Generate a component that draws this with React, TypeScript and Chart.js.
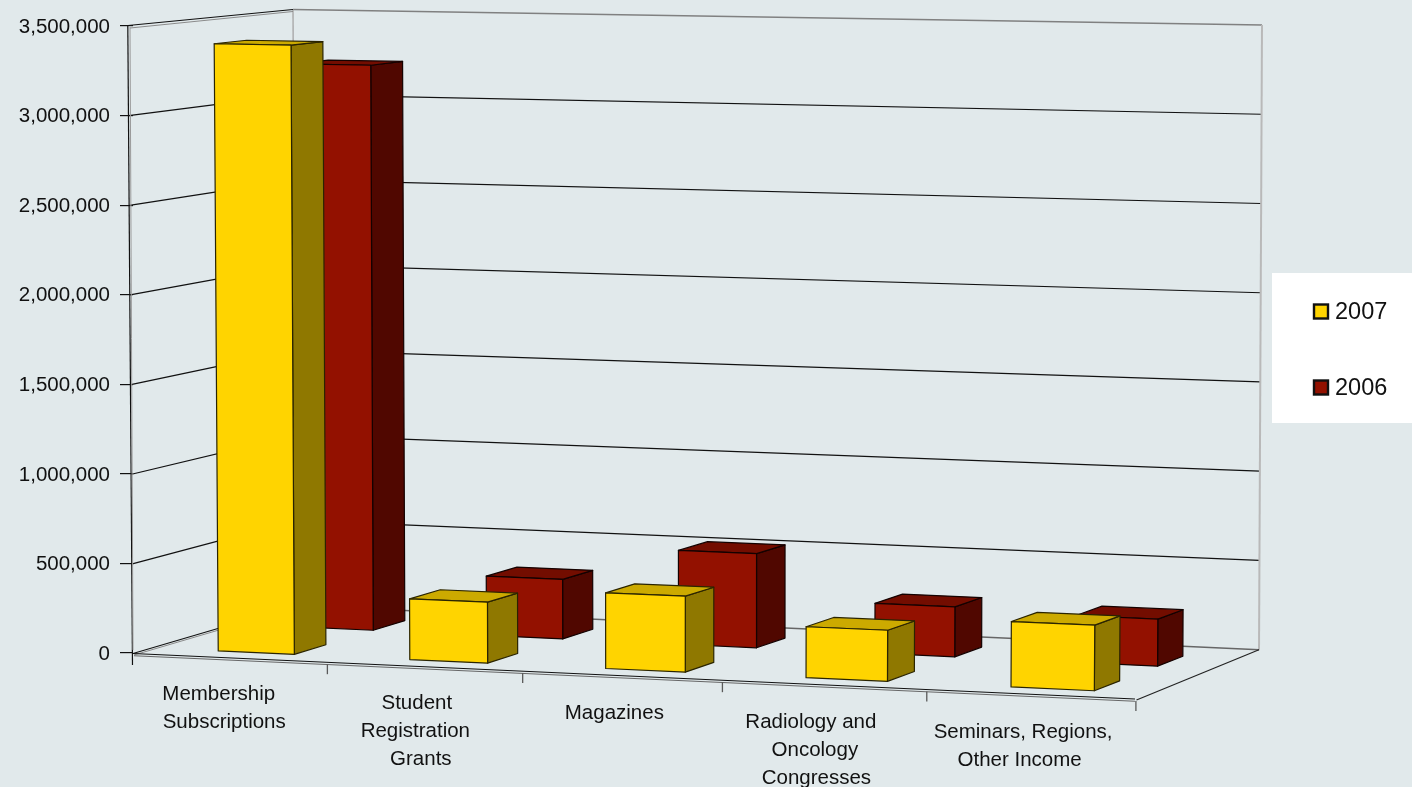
import React, { useEffect, useRef } from "react";
import { Chart, registerables } from "chart.js";

Chart.register(...registerables);

// ---- data ----
const categories: string[][] = [
  ["Membership", "Subscriptions"],
  ["Student", "Registration", "Grants"],
  ["Magazines"],
  ["Radiology and", "Oncology", "Congresses"],
  ["Seminars, Regions,", "Other Income"],
];
const values2007 = [3405000, 338000, 417000, 278000, 354000];
const values2006 = [3239000, 338000, 530000, 279000, 260000];
const seriesNames = ["2007", "2006"];

// ---- styles / layout ----
const FONT = '"Liberation Sans", Arial, sans-serif';
const BG = "#E1E9EB";
const YELLOW = { front: "#FFD400", side: "#8F7800", top: "#CCAA00", edge: "#2a2400" };
const RED = { front: "#931100", side: "#500700", top: "#730D00", edge: "#140200" };

type Pt = [number, number];
// Screen corners of the 3-D box: floor/top, front/back, left/right
const BOX = {
  fbl: [133, 653.5] as Pt,
  fbr: [1135, 699] as Pt,
  ftl: [128, 26] as Pt,
  ftr: [1140, 43] as Pt,
  bbl: [296, 605.5] as Pt,
  bbr: [1259, 649.7] as Pt,
  btl: [293, 9.5] as Pt,
  btr: [1262, 25] as Pt,
};
const WARP = 0.945; // perspective foreshortening along the category axis
const DEPTH_2007: [number, number] = [0.16, 0.36];
const DEPTH_2006: [number, number] = [0.66, 0.86];
const BAR_SHIFT: Pt = [2.5, 2.5]; // the bars sit slightly off the wall perspective
// Per-line horizontal nudges of the wrapped category labels
const labelNudge = [
  [-10, -4.5],
  [-5.5, -7, -1.5],
  [-6],
  [-12, -8, -6.5],
  [-7, -10.5],
];

const lerp = (a: number, b: number, t: number) => a + (b - a) * t;
const warp = (u: number) => (u * WARP) / (1 + u * (WARP - 1));

function project(u: number, v: number, z: number): Pt {
  const s = warp(u);
  const out: Pt = [0, 0];
  for (const i of [0, 1]) {
    const front = lerp(lerp(BOX.fbl[i], BOX.fbr[i], s), lerp(BOX.ftl[i], BOX.ftr[i], s), v);
    const back = lerp(lerp(BOX.bbl[i], BOX.bbr[i], s), lerp(BOX.btl[i], BOX.btr[i], s), v);
    out[i] = lerp(front, back, z);
  }
  return out;
}

function line(ctx: CanvasRenderingContext2D, pts: Pt[], color: string, width = 1) {
  ctx.beginPath();
  pts.forEach((p, i) => (i ? ctx.lineTo(p[0], p[1]) : ctx.moveTo(p[0], p[1])));
  ctx.strokeStyle = color;
  ctx.lineWidth = width;
  ctx.stroke();
}

function face(ctx: CanvasRenderingContext2D, pts: Pt[], fill: string, edge: string) {
  ctx.beginPath();
  pts.forEach((p, i) => {
    const x = p[0] + BAR_SHIFT[0];
    const y = p[1] + BAR_SHIFT[1];
    if (i) ctx.lineTo(x, y);
    else ctx.moveTo(x, y);
  });
  ctx.closePath();
  ctx.fillStyle = fill;
  ctx.fill();
  ctx.strokeStyle = edge;
  ctx.lineWidth = 1.2;
  ctx.lineJoin = "round";
  ctx.stroke();
}

const box3dPlugin = {
  id: "box3d",
  beforeDatasetsDraw(chart: any) {
    const ctx: CanvasRenderingContext2D = chart.ctx;
    const { left, width, top, bottom } = chart.chartArea;
    const y = chart.scales.y;
    const toU = (px: number) => (px - left) / width;
    const toV = (px: number) => (bottom - px) / (bottom - top);

    ctx.save();
    // horizontal grid lines on the left and back walls
    y.ticks.forEach((t: any) => {
      if (t.value === 0 || t.value === 3500000) return;
      const v = toV(y.getPixelForValue(t.value));
      line(ctx, [project(0, v, 0), project(0, v, 1), project(1, v, 1)], "#111111", 1.2);
    });

    // back wall outline
    line(ctx, [BOX.btl, BOX.btr], "#808080", 1.6);
    line(ctx, [BOX.btl, BOX.bbl], "#a9a9a9", 1.4);
    line(ctx, [BOX.btr, BOX.bbr], "#b9b9b9", 2);
    line(ctx, [BOX.bbl, BOX.bbr], "#666666", 1.6);
    // left wall outline
    line(ctx, [[128, 25.5], BOX.btl], "#111111", 1.1);
    line(ctx, [[130, 28], [293, 11.5]], "#8a8a8a", 1);
    line(ctx, [[127.8, 26], [132.5, 665]], "#111111", 1.2);
    line(ctx, [[130, 27], [133, 650]], "#9a9a9a", 1);
    // floor
    line(ctx, [BOX.fbl, BOX.bbl], "#111111", 1.1);
    line(ctx, [[134, 655], [297, 607]], "#8a8a8a", 1);
    line(ctx, [BOX.fbl, BOX.fbr], "#111111", 1.2);
    line(ctx, [[134, 655.8], [1135, 701.3]], "#666666", 1.1);
    line(ctx, [[1136.5, 700], BOX.bbr], "#222222", 1.2);

    // category ticks below the floor
    for (let i = 1; i <= 5; i++) {
      const p = project(i / 5, 0, 0);
      const px = p[0] + 3.4 - 0.5 * i;
      line(ctx, [[px, p[1] + 2], [px, p[1] + 12]], "#5a5a5a", 1.3);
    }

    // bars: back row first, then front row
    const rows: { index: number; depth: [number, number]; c: typeof YELLOW }[] = [
      { index: 1, depth: DEPTH_2006, c: RED },
      { index: 0, depth: DEPTH_2007, c: YELLOW },
    ];
    rows.forEach(({ index, depth, c }) => {
      chart.getDatasetMeta(index).data.forEach((el: any) => {
        const u0 = toU(el.x - el.width / 2);
        const u1 = toU(el.x + el.width / 2);
        const v = toV(el.y);
        const [z0, z1] = depth;
        face(ctx, [project(u1, 0, z0), project(u1, 0, z1), project(u1, v, z1), project(u1, v, z0)], c.side, c.edge);
        face(ctx, [project(u0, v, z0), project(u1, v, z0), project(u1, v, z1), project(u0, v, z1)], c.top, c.edge);
        face(ctx, [project(u0, 0, z0), project(u1, 0, z0), project(u1, v, z0), project(u0, v, z0)], c.front, c.edge);
      });
    });
    ctx.restore();
    return false;
  },
  afterDraw(chart: any) {
    const ctx: CanvasRenderingContext2D = chart.ctx;
    const x = chart.scales.x;
    const { left, width } = chart.chartArea;
    ctx.save();
    ctx.fillStyle = "#111";
    ctx.textBaseline = "middle";

    // category labels follow the slanted front edge
    ctx.font = `20.5px ${FONT}`;
    ctx.textAlign = "center";
    categories.forEach((lines, i) => {
      const p = project((x.getPixelForValue(i) - left) / width, 0, 0);
      lines.forEach((text, j) => {
        ctx.fillText(text, p[0] + labelNudge[i][j] + 0.5, p[1] + 36.5 + i * 0.5 + j * 27.7);
      });
    });

    // legend
    ctx.fillStyle = "#FFFFFF";
    ctx.fillRect(1272, 273, 140, 150);
    ctx.font = `23.5px ${FONT}`;
    ctx.textAlign = "left";
    chart.data.datasets.forEach((ds: any, i: number) => {
      const cy = 312 + i * 76;
      ctx.fillStyle = ds.backgroundColor;
      ctx.fillRect(1314, cy - 7.5, 14, 14);
      ctx.strokeStyle = "#111";
      ctx.lineWidth = 2.4;
      ctx.strokeRect(1314, cy - 7.5, 14, 14);
      ctx.fillStyle = "#111";
      ctx.fillText(ds.label, 1335, cy + 0.5);
    });
    ctx.restore();
  },
};

export default function App() {
  const ref = useRef<HTMLCanvasElement>(null);
  useEffect(() => {
    const chart = new Chart(ref.current as HTMLCanvasElement, {
      type: "bar",
      data: {
        labels: categories as any,
        datasets: [
          { label: seriesNames[0], data: values2007, backgroundColor: YELLOW.front },
          { label: seriesNames[1], data: values2006, backgroundColor: RED.front },
        ],
      },
      plugins: [box3dPlugin as any],
      options: {
        animation: false,
        responsive: false,
        layout: { padding: { top: 26, right: 277, left: 0, bottom: 0 } },
        datasets: { bar: { barPercentage: 0.4, categoryPercentage: 1, grouped: false } },
        plugins: { legend: { display: false }, tooltip: { enabled: false }, title: { display: false } },
        scales: {
          x: {
            grid: { display: false },
            border: { display: false },
            ticks: { display: false },
            afterFit(scale: any) {
              scale.height = 787 - 653;
            },
          },
          y: {
            min: 0,
            max: 3500000,
            border: { display: false },
            grid: { drawOnChartArea: false, drawTicks: true, tickLength: 13, color: "#111", lineWidth: 1.2 },
            ticks: {
              stepSize: 500000,
              padding: 10,
              labelOffset: 1,
              color: "#111",
              font: { family: FONT, size: 20.5 },
              callback: (v: any) => Number(v).toLocaleString("en-US"),
            },
            afterFit(scale: any) {
              scale.width = 133;
            },
          },
        },
      } as any,
    });
    return () => chart.destroy();
  }, []);
  return (
    <div style={{ position: "absolute", left: 0, top: 0, width: 1412, height: 787, background: BG, overflow: "hidden" }}>
      <canvas ref={ref} width={1412} height={787} style={{ display: "block" }} />
    </div>
  );
}
